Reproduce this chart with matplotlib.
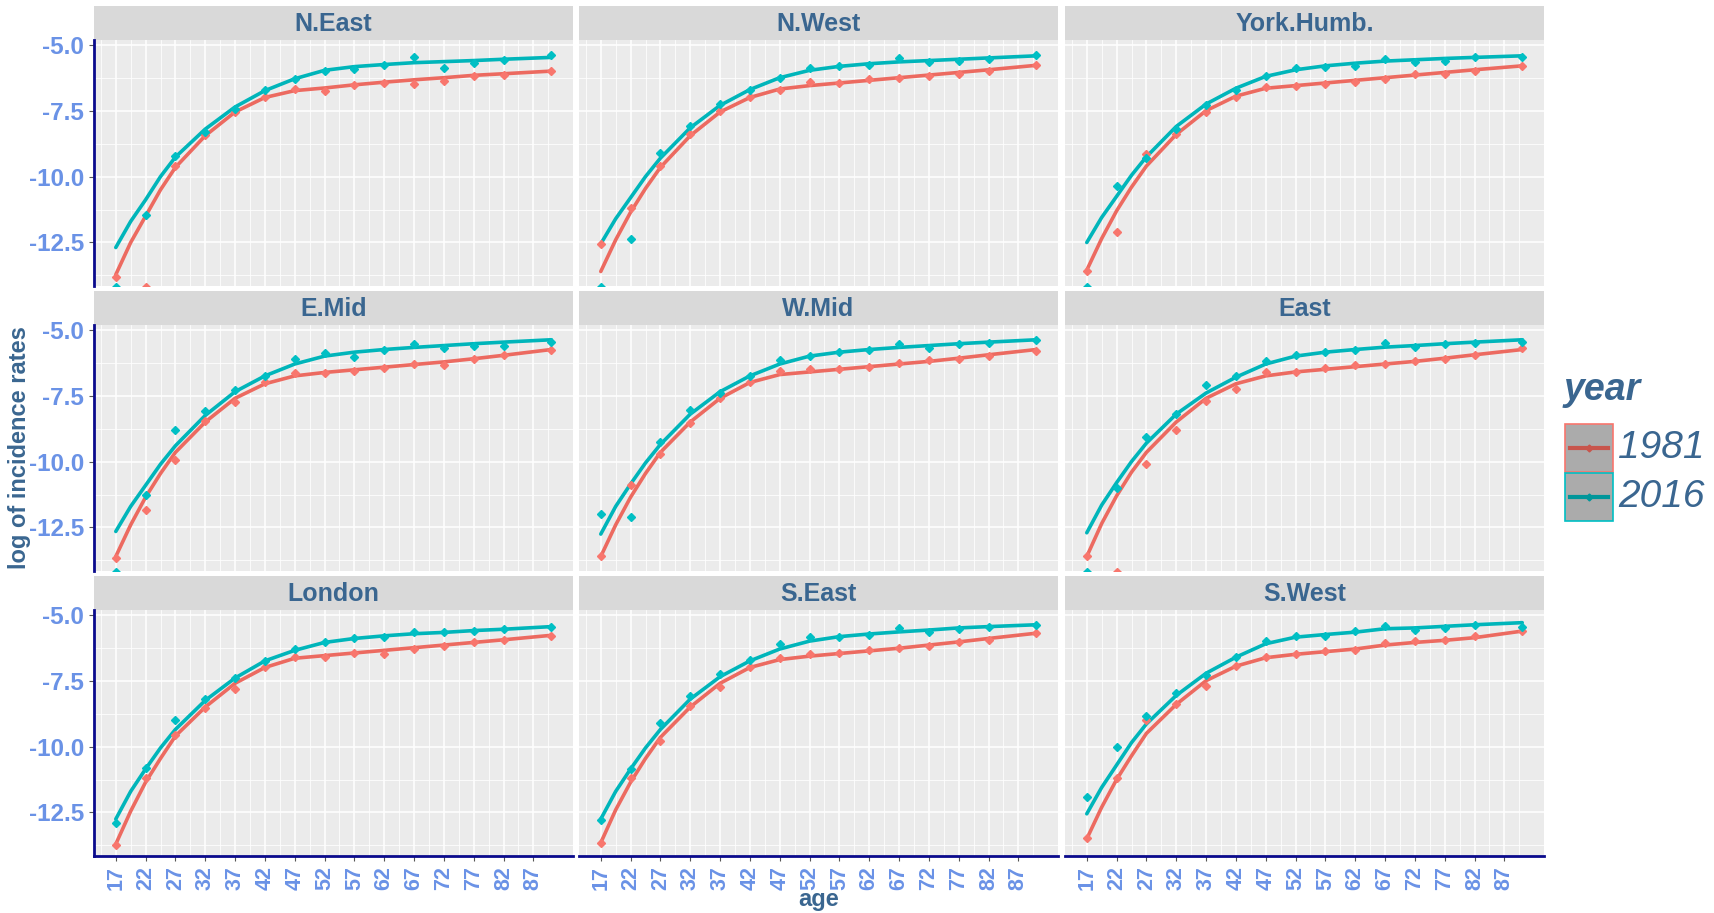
import matplotlib
matplotlib.use("Agg")
import matplotlib.pyplot as plt
from matplotlib.patches import Rectangle

plt.rcParams['font.family'] = ['Liberation Sans', 'DejaVu Sans']

# ---------------- data ----------------
regions = ["N.East", "N.West", "York.Humb.", "E.Mid", "W.Mid", "East",
           "London", "S.East", "S.West"]
years = ["1981", "2016"]
point_ages = [17, 22, 27, 32, 37, 42, 47, 52, 57, 62, 67, 72, 77, 82, 90]
fit_ages = [17, 19.5, 22, 24.5, 27, 32, 37, 42, 47, 52, 57, 62, 67, 72, 77, 82, 90]
x_ticks = [17, 22, 27, 32, 37, 42, 47, 52, 57, 62, 67, 72, 77, 82, 87]
y_ticks = [-5.0, -7.5, -10.0, -12.5]

# fitted curves (log incidence) at fit_ages
neast_fit_1981 = [-13.72, -12.5, -11.5, -10.5, -9.65, -8.45, -7.55, -7.0, -6.74, -6.64, -6.52, -6.42, -6.33, -6.25, -6.16, -6.1, -6.0]
neast_fit_2016 = [-12.69, -11.7, -10.88, -10.0, -9.26, -8.2, -7.36, -6.74, -6.29, -5.97, -5.83, -5.75, -5.68, -5.64, -5.6, -5.55, -5.48]
nwest_fit_1981 = [-13.6, -12.4, -11.35, -10.45, -9.65, -8.45, -7.55, -7.0, -6.68, -6.55, -6.45, -6.35, -6.25, -6.15, -6.05, -5.95, -5.78]
nwest_fit_2016 = [-12.55, -11.6, -10.8, -10.0, -9.3, -8.15, -7.3, -6.7, -6.25, -5.97, -5.82, -5.72, -5.65, -5.6, -5.55, -5.5, -5.42]
york_fit_1981 = [-13.55, -12.35, -11.3, -10.4, -9.6, -8.4, -7.5, -6.95, -6.65, -6.55, -6.45, -6.35, -6.25, -6.15, -6.05, -5.95, -5.8]
york_fit_2016 = [-12.5, -11.55, -10.75, -9.95, -9.25, -8.1, -7.25, -6.65, -6.2, -5.95, -5.8, -5.7, -5.62, -5.57, -5.52, -5.48, -5.42]
emid_fit_1981 = [-13.6, -12.4, -11.35, -10.45, -9.65, -8.5, -7.6, -7.05, -6.75, -6.62, -6.52, -6.42, -6.32, -6.22, -6.1, -5.97, -5.75]
emid_fit_2016 = [-12.65, -11.7, -10.9, -10.1, -9.4, -8.25, -7.35, -6.75, -6.3, -6.0, -5.85, -5.75, -5.67, -5.6, -5.53, -5.47, -5.38]
wmid_fit_1981 = [-13.6, -12.4, -11.35, -10.45, -9.65, -8.5, -7.6, -7.0, -6.7, -6.6, -6.5, -6.4, -6.3, -6.2, -6.08, -5.95, -5.75]
wmid_fit_2016 = [-12.75, -11.7, -10.85, -10.05, -9.35, -8.2, -7.35, -6.75, -6.3, -6.0, -5.85, -5.75, -5.67, -5.6, -5.53, -5.47, -5.38]
east_fit_1981 = [-13.6, -12.35, -11.3, -10.4, -9.65, -8.5, -7.6, -7.05, -6.75, -6.6, -6.5, -6.4, -6.3, -6.2, -6.08, -5.95, -5.75]
east_fit_2016 = [-12.7, -11.65, -10.8, -10.0, -9.3, -8.2, -7.4, -6.8, -6.3, -6.0, -5.85, -5.75, -5.66, -5.6, -5.53, -5.47, -5.38]
london_fit_1981 = [-13.7, -12.45, -11.35, -10.45, -9.6, -8.5, -7.6, -7.0, -6.65, -6.55, -6.45, -6.35, -6.25, -6.15, -6.05, -5.95, -5.78]
london_fit_2016 = [-12.75, -11.7, -10.85, -10.05, -9.35, -8.25, -7.4, -6.75, -6.35, -6.05, -5.9, -5.8, -5.72, -5.67, -5.6, -5.55, -5.45]
seast_fit_1981 = [-13.65, -12.4, -11.35, -10.45, -9.65, -8.5, -7.6, -7.0, -6.7, -6.57, -6.47, -6.37, -6.27, -6.15, -6.03, -5.9, -5.7]
seast_fit_2016 = [-12.75, -11.7, -10.85, -10.05, -9.35, -8.2, -7.35, -6.75, -6.3, -6.0, -5.83, -5.73, -5.65, -5.58, -5.5, -5.45, -5.38]
swest_fit_1981 = [-13.5, -12.3, -11.25, -10.35, -9.5, -8.4, -7.5, -6.95, -6.63, -6.5, -6.4, -6.3, -6.15, -6.05, -5.97, -5.87, -5.62]
swest_fit_2016 = [-12.55, -11.55, -10.7, -9.85, -9.14, -8.06, -7.22, -6.61, -6.1, -5.85, -5.75, -5.66, -5.53, -5.5, -5.44, -5.38, -5.3]

# observed log incidence rates at point_ages
neast_obs_1981 = [-13.8, -14.2, -9.6, -8.42, -7.55, -7.0, -6.68, -6.77, -6.51, -6.46, -6.49, -6.36, -6.2, -6.16, -6.0]
neast_obs_2016 = [-14.2, -11.45, -9.22, -8.3, -7.45, -6.72, -6.29, -6.01, -5.93, -5.78, -5.48, -5.87, -5.71, -5.58, -5.39]
nwest_obs_1981 = [-12.55, -11.2, -9.6, -8.4, -7.5, -7.0, -6.7, -6.4, -6.45, -6.3, -6.25, -6.2, -6.1, -6.0, -5.75]
nwest_obs_2016 = [-14.2, -12.35, -9.1, -8.1, -7.25, -6.7, -6.25, -5.9, -5.8, -5.75, -5.5, -5.65, -5.6, -5.55, -5.4]
york_obs_1981 = [-13.6, -12.1, -9.15, -8.4, -7.55, -7.0, -6.6, -6.55, -6.5, -6.4, -6.3, -6.1, -6.1, -6.0, -5.8]
york_obs_2016 = [-14.2, -10.35, -9.3, -8.2, -7.3, -6.7, -6.2, -5.9, -5.85, -5.8, -5.55, -5.65, -5.6, -5.45, -5.45]
emid_obs_1981 = [-13.65, -11.85, -9.95, -8.45, -7.75, -7.0, -6.65, -6.65, -6.55, -6.45, -6.3, -6.35, -6.1, -5.95, -5.75]
emid_obs_2016 = [-14.2, -11.25, -8.8, -8.1, -7.3, -6.75, -6.1, -5.9, -6.05, -5.75, -5.55, -5.7, -5.6, -5.6, -5.45]
wmid_obs_1981 = [-13.6, -10.9, -9.7, -8.55, -7.6, -7.0, -6.55, -6.5, -6.5, -6.4, -6.25, -6.15, -6.1, -6.0, -5.8]
wmid_obs_2016 = [-12.0, -12.1, -9.25, -8.05, -7.4, -6.75, -6.15, -6.0, -5.85, -5.75, -5.55, -5.7, -5.55, -5.5, -5.4]
east_obs_1981 = [-13.6, -14.2, -10.1, -8.8, -7.7, -7.25, -6.6, -6.6, -6.45, -6.35, -6.3, -6.2, -6.1, -5.95, -5.7]
east_obs_2016 = [-14.2, -11.0, -9.05, -8.2, -7.1, -6.75, -6.2, -5.95, -5.85, -5.75, -5.5, -5.65, -5.55, -5.5, -5.45]
london_obs_1981 = [-13.75, -11.2, -9.55, -8.55, -7.8, -7.0, -6.6, -6.6, -6.45, -6.5, -6.3, -6.2, -6.05, -5.95, -5.8]
london_obs_2016 = [-12.9, -10.8, -9.0, -8.2, -7.4, -6.75, -6.3, -6.05, -5.9, -5.85, -5.65, -5.65, -5.6, -5.55, -5.45]
seast_obs_1981 = [-13.65, -11.2, -9.8, -8.45, -7.75, -7.0, -6.65, -6.5, -6.45, -6.35, -6.25, -6.2, -6.05, -5.95, -5.7]
seast_obs_2016 = [-12.8, -10.85, -9.1, -8.1, -7.25, -6.7, -6.1, -5.85, -5.85, -5.75, -5.5, -5.65, -5.55, -5.45, -5.4]
swest_obs_1981 = [-13.45, -11.2, -9.0, -8.4, -7.7, -6.95, -6.6, -6.48, -6.38, -6.35, -6.08, -6.0, -5.97, -5.8, -5.6]
swest_obs_2016 = [-11.9, -10.0, -8.85, -7.97, -7.3, -6.6, -6.0, -5.82, -5.82, -5.62, -5.43, -5.56, -5.5, -5.38, -5.45]

fits = {
    "N.East": (neast_fit_1981, neast_fit_2016), "N.West": (nwest_fit_1981, nwest_fit_2016),
    "York.Humb.": (york_fit_1981, york_fit_2016), "E.Mid": (emid_fit_1981, emid_fit_2016),
    "W.Mid": (wmid_fit_1981, wmid_fit_2016), "East": (east_fit_1981, east_fit_2016),
    "London": (london_fit_1981, london_fit_2016), "S.East": (seast_fit_1981, seast_fit_2016),
    "S.West": (swest_fit_1981, swest_fit_2016),
}
obs = {
    "N.East": (neast_obs_1981, neast_obs_2016), "N.West": (nwest_obs_1981, nwest_obs_2016),
    "York.Humb.": (york_obs_1981, york_obs_2016), "E.Mid": (emid_obs_1981, emid_obs_2016),
    "W.Mid": (wmid_obs_1981, wmid_obs_2016), "East": (east_obs_1981, east_obs_2016),
    "London": (london_obs_1981, london_obs_2016), "S.East": (seast_obs_1981, seast_obs_2016),
    "S.West": (swest_obs_1981, swest_obs_2016),
}

# ---------------- style ----------------
COLS = ["#F8766D", "#00BFC4"]
LINE_COLS = ["#EC6A60", "#00B5BA"]
STRIP_TXT = "#3A6690"
TICK_TXT = "#6A92E6"
AXIS_LINE = "#0A0A8C"
PANEL_BG = "#EBEBEB"
STRIP_BG = "#D9D9D9"

W, H = 1714, 913
fig = plt.figure(figsize=(W / 100, H / 100), dpi=100)

col_left = [94, 579, 1065]
col_w = 479
strip_top = [6, 291, 576]
strip_h = 34
panel_h = 246

def fx(x):
    return x / W

def fy(y):
    return 1 - y / H

for i, reg in enumerate(regions):
    r, c = divmod(i, 3)
    x0 = col_left[c]
    st = strip_top[r]
    pt = st + strip_h
    # strip
    sax = fig.add_axes([fx(x0), fy(pt), col_w / W, strip_h / H])
    sax.set_facecolor(STRIP_BG)
    sax.set_xticks([]); sax.set_yticks([])
    for s in sax.spines.values():
        s.set_visible(False)
    sax.text(0.5, 0.48, reg, ha="center", va="center", fontsize=18,
             fontweight="bold", color=STRIP_TXT, transform=sax.transAxes)
    # panel
    ax = fig.add_axes([fx(x0), fy(pt + panel_h), col_w / W, panel_h / H])
    ax.set_facecolor(PANEL_BG)
    ax.set_xlim(13.35, 93.65)
    ax.set_ylim(-14.15, -4.82)
    ax.set_xticks(x_ticks)
    ax.set_yticks(y_ticks)
    ax.set_yticks([-6.25, -8.75, -11.25, -13.75], minor=True)
    ax.set_xticks([14.5, 19.5, 24.5, 29.5, 34.5, 39.5, 44.5, 49.5, 54.5, 59.5,
                   64.5, 69.5, 74.5, 79.5, 84.5, 89.5], minor=True)
    ax.grid(True, which="major", color="white", lw=1.1)
    ax.grid(True, which="minor", color="white", lw=0.55)
    ax.set_axisbelow(True)
    for s in ax.spines.values():
        s.set_visible(False)
    ax.tick_params(which="minor", length=0)
    ax.tick_params(which="major", length=3.5, width=0.8, color="#555555")
    if c == 0:
        ax.spines["left"].set_visible(True)
        ax.spines["left"].set_color(AXIS_LINE)
        ax.spines["left"].set_linewidth(2)
        ax.set_yticklabels(["-5.0", "-7.5", "-10.0", "-12.5"], fontsize=17.5,
                           fontweight="bold", color=TICK_TXT)
    else:
        ax.tick_params(axis="y", which="both", length=0, labelleft=False)
    if r == 2:
        ax.spines["bottom"].set_visible(True)
        ax.spines["bottom"].set_color(AXIS_LINE)
        ax.spines["bottom"].set_linewidth(2)
        ax.set_xticklabels([str(t) for t in x_ticks], rotation=90, fontsize=15.5,
                           fontweight="bold", color=TICK_TXT, va="top")
    else:
        ax.tick_params(axis="x", which="both", length=0, labelbottom=False)

    for k in range(2):
        ax.plot(fit_ages, fits[reg][k], color=LINE_COLS[k], lw=2.6, zorder=3,
                solid_capstyle="round", solid_joinstyle="round")
        ax.plot(point_ages, obs[reg][k], ls="none", marker="D", ms=4.2,
                color=COLS[k], zorder=4)

# axis titles
fig.text(fx(819), fy(899), "age", ha="center", va="center", fontsize=17,
         fontweight="bold", color=STRIP_TXT)
fig.text(fx(20), fy(448), "log of incidence rates", ha="center", va="center",
         rotation=90, fontsize=17, fontweight="bold", color=STRIP_TXT)

# legend
lax = fig.add_axes([fx(1562), fy(525), (1714 - 1562) / W, (525 - 365) / H])
lax.set_xlim(0, 152)
lax.set_ylim(160, 0)
lax.axis("off")
lax.text(2, 25, "year", ha="left", va="center", fontsize=27,
         fontweight="bold", style="italic", color=STRIP_TXT)
KEY_LINE = ["#C8554C", "#00969A"]
for k, yr in enumerate(years):
    ytop = 59 + k * 49
    lax.add_patch(Rectangle((3, ytop), 48, 48, facecolor="#ABABAB",
                            edgecolor=COLS[k], lw=1.2))
    lax.plot([8, 46], [ytop + 24, ytop + 24], color=KEY_LINE[k], lw=3)
    lax.plot([27], [ytop + 24], color=KEY_LINE[k], marker="D", ms=3.5)
    lax.text(56, ytop + 24, yr, ha="left", va="center", fontsize=28,
             style="italic", color=STRIP_TXT)

fig.savefig("out.png", dpi=100)
